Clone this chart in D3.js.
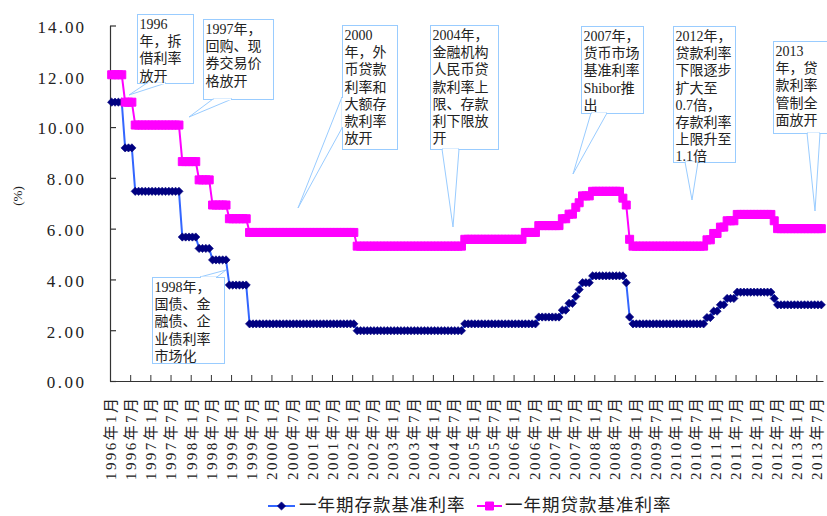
<!DOCTYPE html>
<html><head><meta charset="utf-8">
<script src="https://cdn.jsdelivr.net/npm/d3@7"></script>
<style>
html,body{margin:0;padding:0;background:#fff;}
svg{display:block;}
</style></head>
<body><svg id="chart" width="827" height="516"></svg>
<script>
// ---------------- DATA ----------------
const years = [1996,1997,1998,1999,2000,2001,2002,2003,2004,2005,2006,2007,2008,2009,2010,2011,2012,2013];
// monthly categories, Jan 1996 .. Aug 2013
const months = [];
years.forEach(y => { for (let m = 1; m <= 12; m++) { if (y === 2013 && m > 8) break; months.push(y + "年" + m + "月"); } });

// 一年期存款基准利率 (monthly, %)
const depositRate = [
  10.98,10.98,10.98,10.98,9.18,9.18,9.18,7.47,7.47,7.47,7.47,7.47,
  7.47,7.47,7.47,7.47,7.47,7.47,7.47,7.47,7.47,5.67,5.67,5.67,
  5.67,5.67,5.22,5.22,5.22,5.22,4.77,4.77,4.77,4.77,4.77,3.78,
  3.78,3.78,3.78,3.78,3.78,2.25,2.25,2.25,2.25,2.25,2.25,2.25,
  2.25,2.25,2.25,2.25,2.25,2.25,2.25,2.25,2.25,2.25,2.25,2.25,
  2.25,2.25,2.25,2.25,2.25,2.25,2.25,2.25,2.25,2.25,2.25,2.25,
  2.25,1.98,1.98,1.98,1.98,1.98,1.98,1.98,1.98,1.98,1.98,1.98,
  1.98,1.98,1.98,1.98,1.98,1.98,1.98,1.98,1.98,1.98,1.98,1.98,
  1.98,1.98,1.98,1.98,1.98,1.98,1.98,1.98,1.98,2.25,2.25,2.25,
  2.25,2.25,2.25,2.25,2.25,2.25,2.25,2.25,2.25,2.25,2.25,2.25,
  2.25,2.25,2.25,2.25,2.25,2.25,2.25,2.52,2.52,2.52,2.52,2.52,
  2.52,2.52,2.79,2.79,3.06,3.06,3.33,3.60,3.87,3.87,3.87,4.14,
  4.14,4.14,4.14,4.14,4.14,4.14,4.14,4.14,4.14,3.87,2.52,2.25,
  2.25,2.25,2.25,2.25,2.25,2.25,2.25,2.25,2.25,2.25,2.25,2.25,
  2.25,2.25,2.25,2.25,2.25,2.25,2.25,2.25,2.25,2.50,2.50,2.75,
  2.75,3.00,3.00,3.25,3.25,3.25,3.50,3.50,3.50,3.50,3.50,3.50,
  3.50,3.50,3.50,3.50,3.50,3.25,3.00,3.00,3.00,3.00,3.00,3.00,
  3.00,3.00,3.00,3.00,3.00,3.00,3.00,3.00
];
// 一年期贷款基准利率 (monthly, %)
const loanRate = [
  12.06,12.06,12.06,12.06,10.98,10.98,10.98,10.08,10.08,10.08,10.08,10.08,
  10.08,10.08,10.08,10.08,10.08,10.08,10.08,10.08,10.08,8.64,8.64,8.64,
  8.64,8.64,7.92,7.92,7.92,7.92,6.93,6.93,6.93,6.93,6.93,6.39,
  6.39,6.39,6.39,6.39,6.39,5.85,5.85,5.85,5.85,5.85,5.85,5.85,
  5.85,5.85,5.85,5.85,5.85,5.85,5.85,5.85,5.85,5.85,5.85,5.85,
  5.85,5.85,5.85,5.85,5.85,5.85,5.85,5.85,5.85,5.85,5.85,5.85,
  5.85,5.31,5.31,5.31,5.31,5.31,5.31,5.31,5.31,5.31,5.31,5.31,
  5.31,5.31,5.31,5.31,5.31,5.31,5.31,5.31,5.31,5.31,5.31,5.31,
  5.31,5.31,5.31,5.31,5.31,5.31,5.31,5.31,5.31,5.58,5.58,5.58,
  5.58,5.58,5.58,5.58,5.58,5.58,5.58,5.58,5.58,5.58,5.58,5.58,
  5.58,5.58,5.58,5.85,5.85,5.85,5.85,6.12,6.12,6.12,6.12,6.12,
  6.12,6.12,6.39,6.39,6.57,6.57,6.84,7.02,7.29,7.29,7.29,7.47,
  7.47,7.47,7.47,7.47,7.47,7.47,7.47,7.47,7.20,6.93,5.58,5.31,
  5.31,5.31,5.31,5.31,5.31,5.31,5.31,5.31,5.31,5.31,5.31,5.31,
  5.31,5.31,5.31,5.31,5.31,5.31,5.31,5.31,5.31,5.56,5.56,5.81,
  5.81,6.06,6.06,6.31,6.31,6.31,6.56,6.56,6.56,6.56,6.56,6.56,
  6.56,6.56,6.56,6.56,6.56,6.31,6.00,6.00,6.00,6.00,6.00,6.00,
  6.00,6.00,6.00,6.00,6.00,6.00,6.00,6.00
];

const seriesNames = ["一年期存款基准利率", "一年期贷款基准利率"];
const yTickValues = [0,2,4,6,8,10,12,14];
const yTickLabels = ["0.00","2.00","4.00","6.00","8.00","10.00","12.00","14.00"];
const xTickLabels = [
  "1996年1月","1996年7月","1997年1月","1997年7月","1998年1月","1998年7月",
  "1999年1月","1999年7月","2000年1月","2000年7月","2001年1月","2001年7月",
  "2002年1月","2002年7月","2003年1月","2003年7月","2004年1月","2004年7月",
  "2005年1月","2005年7月","2006年1月","2006年7月","2007年1月","2007年7月",
  "2008年1月","2008年7月","2009年1月","2009年7月","2010年1月","2010年7月",
  "2011年1月","2011年7月","2012年1月","2012年7月","2013年1月","2013年7月"
];
const yAxisTitle = "(%)";

const annotationTexts = [
  ["1996","年，拆","借利率","放开"],
  ["1997年，","回购、现","券交易价","格放开"],
  ["2000","年，外","币贷款","利率和","大额存","款利率","放开"],
  ["2004年，","金融机构","人民币贷","款利率上","限、存款","利下限放","开"],
  ["2007年，","货币市场","基准利率","Shibor推","出"],
  ["2012年，","贷款利率","下限逐步","扩大至","0.7倍，","存款利率","上限升至","1.1倍"],
  ["2013","年，贷","款利率","管制全","面放开"],
  ["1998年，","国债、金","融债、企","业债利率","市场化"]
];

// ---------------- LAYOUT ----------------
const L = { left:110, right:823, top:25.5, bottom:381 };
const calloutLayout = [
  {x:137,y:14,w:56,h:69, ptr:[[147,83],[166,83],[129,95]]},
  {x:203,y:19,w:70,h:80, ptr:[[213,99],[232,99],[189,117]]},
  {x:342,y:25,w:55,h:124, ptr:[[342,97],[342,128],[298,208]]},
  {x:430,y:25,w:68,h:124, ptr:[[442,149],[459,149],[453,227]]},
  {x:581,y:26,w:62,h:87, ptr:[[591,113],[607,113],[573,174]]},
  {x:673,y:26,w:62,h:136, ptr:[[685,162],[698,162],[692,200]]},
  {x:773,y:41,w:62,h:92, ptr:[[807,133],[820,133],[815,211]]},
  {x:152,y:277,w:72,h:86, ptr:[[200,277],[217,277],[226,270]]}
];
const FONT_MIX = "'Liberation Serif','Noto Sans CJK SC',serif";
const FONT_CJK = "'Noto Sans CJK SC','Liberation Serif',sans-serif";

const svg = d3.select("#chart");

const x = d3.scaleBand().domain(months).range([L.left, L.right]).padding(0);
const cx = m => x(m) + x.bandwidth() / 2;
const xIdx = d3.scaleLinear().domain([0, months.length]).range([L.left, L.right]);
const y = d3.scaleLinear().domain([0, 14]).range([L.bottom, L.top]);

// Y axis
const yAxis = svg.append("g").attr("transform", `translate(${L.left},0)`)
  .call(d3.axisLeft(y).tickValues(yTickValues).tickSizeInner(-6).tickSizeOuter(0)
    .tickFormat((d, i) => yTickLabels[i]));
yAxis.select(".domain").attr("stroke", "#333").attr("stroke-width", 1.2);
yAxis.selectAll(".tick line").attr("stroke", "#333").attr("stroke-width", 1.2);
yAxis.selectAll(".tick text")
  .attr("x", -26).attr("dy", "0.4em")
  .attr("font-family", FONT_MIX).attr("font-size", 17).attr("fill", "#222")
  .attr("text-anchor", "end")
  .each(function(d, i) { d3.select(this).attr("textLength", yTickLabels[i].length * 9.3).attr("lengthAdjust", "spacing"); });

// X axis
const xTickIdx = xTickLabels.map((d, i) => i * 6);
const xAxis = svg.append("g").attr("transform", `translate(0,${L.bottom})`)
  .call(d3.axisBottom(xIdx).tickValues(xTickIdx).tickSizeInner(-6).tickSizeOuter(0)
    .tickFormat((d, i) => xTickLabels[i]));
xAxis.select(".domain").attr("stroke", "#333").attr("stroke-width", 1.2);
xAxis.selectAll(".tick line").attr("stroke", "#333").attr("stroke-width", 1);
xAxis.selectAll(".tick text")
  .attr("y", 0).attr("dy", "0.36em")
  .attr("transform", "translate(0,17) rotate(-90)")
  .attr("text-anchor", "end")
  .attr("font-family", FONT_MIX).attr("font-size", 15).attr("fill", "#222")
  .attr("textLength", 82).attr("lengthAdjust", "spacing");

// Y axis title
svg.append("text")
  .attr("transform", "translate(17,196) rotate(-90)")
  .attr("text-anchor", "middle").attr("dy", "0.35em")
  .attr("font-family", FONT_MIX).attr("font-size", 13).attr("fill", "#222")
  .text(yAxisTitle);

// Series
const depData = months.map((m, i) => ({m, v: depositRate[i]}));
const loanData = months.map((m, i) => ({m, v: loanRate[i]}));
const line = d3.line().x(d => cx(d.m)).y(d => y(d.v));
const diamond = d3.symbol(d3.symbolSquare, 34);
const square = d3.symbol(d3.symbolSquare, 64);

svg.append("path").datum(depData).attr("d", line)
  .attr("fill", "none").attr("stroke", "#3366FF").attr("stroke-width", 2);
svg.append("g").selectAll("path").data(depData).join("path")
  .attr("d", diamond)
  .attr("transform", d => `translate(${cx(d.m)},${y(d.v)}) rotate(45)`)
  .attr("fill", "#000080").attr("stroke", "#000080").attr("stroke-width", 0.6);

svg.append("path").datum(loanData).attr("d", line)
  .attr("fill", "none").attr("stroke", "#FF00FF").attr("stroke-width", 2);
svg.append("g").selectAll("path").data(loanData).join("path")
  .attr("d", square)
  .attr("transform", d => `translate(${cx(d.m)},${y(d.v)})`)
  .attr("fill", "#FF00FF").attr("stroke", "#FF00FF").attr("stroke-width", 1);

// Callouts
const cg = svg.append("g");
annotationTexts.forEach((lines, i) => {
  const b = calloutLayout[i];
  const g = cg.append("g");
  const horiz = b.ptr[0][1] === b.ptr[1][1];
  g.append("rect").attr("x", b.x + 0.5).attr("y", b.y + 0.5).attr("width", b.w).attr("height", b.h)
    .attr("fill", "#fff").attr("stroke", "#99CCFF").attr("stroke-width", 1);
  g.append("polygon").attr("points", b.ptr.map(p => p.join(",")).join(" "))
    .attr("fill", "#fff").attr("stroke", "#99CCFF").attr("stroke-width", 1);
  // hide the border between the pointer's base points
  if (horiz) {
    g.append("line").attr("x1", b.ptr[0][0] + 1).attr("x2", b.ptr[1][0] - 1)
      .attr("y1", b.ptr[0][1] + 0.5).attr("y2", b.ptr[1][1] + 0.5)
      .attr("stroke", "#fff").attr("stroke-width", 1.6);
  } else {
    g.append("line").attr("x1", b.ptr[0][0] + 0.5).attr("x2", b.ptr[1][0] + 0.5)
      .attr("y1", b.ptr[0][1] + 1).attr("y2", b.ptr[1][1] - 1)
      .attr("stroke", "#fff").attr("stroke-width", 1.6);
  }
  const t = g.append("text").attr("font-family", FONT_MIX).attr("font-size", 14).attr("fill", "#222");
  lines.forEach((s, k) => {
    t.append("tspan").attr("x", b.x + 2.5).attr("y", b.y + 15 + k * 17.2).text(s);
  });
});

// Legend
const lg = svg.append("g");
const ly = 506;
lg.append("line").attr("x1", 268).attr("x2", 295).attr("y1", ly).attr("y2", ly)
  .attr("stroke", "#3366FF").attr("stroke-width", 2);
lg.append("path").attr("d", diamond).attr("transform", `translate(281.5,${ly}) rotate(45)`)
  .attr("fill", "#000080").attr("stroke", "#000080").attr("stroke-width", 0.6);
lg.append("text").attr("x", 299).attr("y", 510.5)
  .attr("font-family", FONT_CJK).attr("font-size", 17.5).attr("letter-spacing", 1)
  .attr("fill", "#222").text(seriesNames[0]);
lg.append("line").attr("x1", 477).attr("x2", 502).attr("y1", ly).attr("y2", ly)
  .attr("stroke", "#FF00FF").attr("stroke-width", 2);
lg.append("path").attr("d", square).attr("transform", `translate(489.5,${ly})`)
  .attr("fill", "#FF00FF").attr("stroke", "#FF00FF").attr("stroke-width", 1);
lg.append("text").attr("x", 505).attr("y", 510.5)
  .attr("font-family", FONT_CJK).attr("font-size", 17.5).attr("letter-spacing", 1)
  .attr("fill", "#222").text(seriesNames[1]);
</script>
</body></html>
